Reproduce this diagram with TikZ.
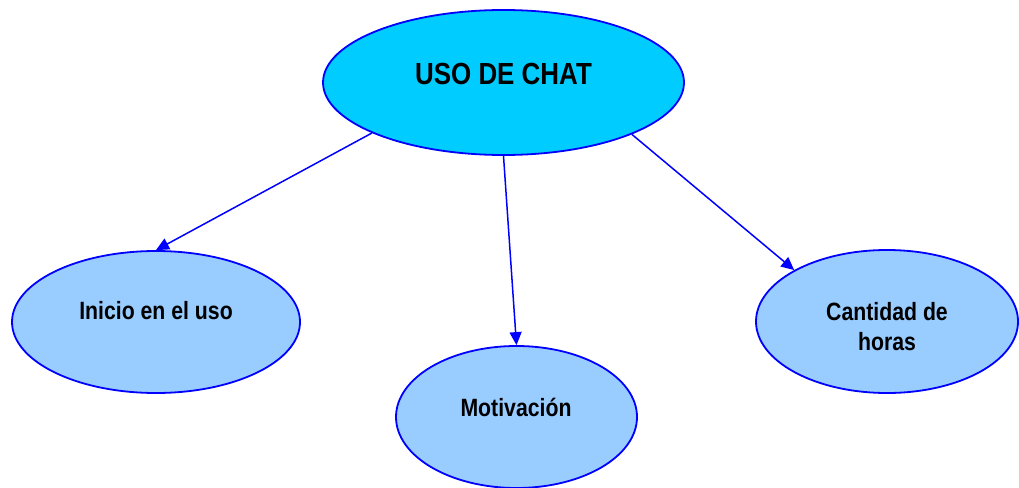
\documentclass[tikz,border=0pt]{standalone}
\usepackage{fontspec}
\setmainfont{Liberation Sans}[FakeStretch=0.85]
\usetikzlibrary{shapes.geometric,arrows.meta}
\definecolor{topfill}{HTML}{00CCFF}
\definecolor{leaffill}{HTML}{99CCFF}
\definecolor{edge}{HTML}{0000FF}
\tikzset{
  ell/.style={ellipse, draw=edge, line width=1.8pt, inner sep=0pt},
  topell/.style={ell, fill=topfill},
  leafell/.style={ell, fill=leaffill},
  toptxt/.style={font=\fontsize{30.5}{36}\selectfont\bfseries, text=black, inner sep=0pt},
  leaftxt/.style={font=\fontsize{25}{30}\selectfont\bfseries, text=black, inner sep=0pt, align=center},
  conn/.style={draw=edge, line width=1.5pt, -{Triangle[length=13pt,width=12pt]}}
}
\begin{document}
\begin{tikzpicture}[x=1pt,y=-1pt]
\useasboundingbox (0,0) rectangle (1019,487);
\node[topell, minimum width=361pt, minimum height=145pt] (top) at (503.5,82.5) {};
\node[leafell, minimum width=288pt, minimum height=142pt] (inicio) at (156,322) {};
\node[leafell, minimum width=241pt, minimum height=142pt] (motiv) at (516.5,417) {};
\node[leafell, minimum width=262pt, minimum height=143pt] (cant) at (887,321.5) {};
\node[toptxt] (ttop) at (503.5,74) {USO DE CHAT};
\node[leaftxt] (tinicio) at (156,311) {Inicio en el uso};
\node[leaftxt] (tmotiv) at (516,407) {Motivación};
\node[leaftxt] (tcant) at (887,327) {Cantidad de\\horas};
\draw[conn] (top.201.6) -- (inicio.north);
\draw[conn] (top.south) -- (motiv.north);
\draw[conn] (top.338.2) -- (cant.151.5);
\end{tikzpicture}
\end{document}
